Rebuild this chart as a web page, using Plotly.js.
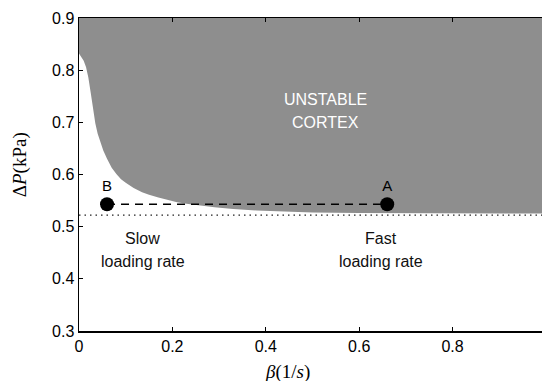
<!DOCTYPE html>
<html>
<head>
<meta charset="utf-8">
<script src="https://cdn.plot.ly/plotly-3.0.1.min.js"></script>
<style>
html, body { margin: 0; padding: 0; overflow: hidden; background: #fff; }
#chart { width: 547px; height: 381px; }
</style>
</head>
<body>
<div id="chart"></div>
<script>
// ---- data ----
const xRange = [0, 1];
const yRange = [0.3, 0.9];
const xTicks = [0, 0.2, 0.4, 0.6, 0.8];
const xTickText = ['0', '0.2', '0.4', '0.6', '0.8'];
const yTicks = [0.3, 0.4, 0.5, 0.6, 0.7, 0.8, 0.9];
const yTickText = ['0.3', '0.4', '0.5', '0.6', '0.7', '0.8', '0.9'];

// stability boundary (lower edge of the unstable region)
const boundaryBeta = [0, 0.005, 0.010, 0.015, 0.020, 0.025, 0.030, 0.035, 0.040, 0.046, 0.052, 0.060, 0.070, 0.080, 0.090, 0.100, 0.117, 0.135, 0.150, 0.170, 0.190, 0.210, 0.230, 0.260, 0.290, 0.330, 0.380, 0.440, 0.500, 0.600, 0.800, 1.000];
const boundaryDP   = [0.832, 0.826, 0.818, 0.806, 0.786, 0.757, 0.724, 0.698, 0.678, 0.660, 0.646, 0.630, 0.613, 0.601, 0.591, 0.584, 0.574, 0.566, 0.561, 0.556, 0.551, 0.547, 0.544, 0.540, 0.537, 0.534, 0.531, 0.529, 0.527, 0.526, 0.525, 0.525];

// asymptotic threshold (dotted line)
const thresholdBeta = [0, 1];
const thresholdDP = [0.522, 0.522];

// loading points
const pointBeta = [0.06, 0.66];
const pointDP = [0.543, 0.543];
const pointLabels = ['B', 'A'];

// region labels
const regionLabelLines = ['UNSTABLE', 'CORTEX'];
const slowLines = ['Slow', 'loading rate'];
const fastLines = ['Fast', 'loading rate'];

// ---- build figure ----
const fillX = boundaryBeta.concat([xRange[1], xRange[0]]);
const fillY = boundaryDP.concat([yRange[1], yRange[1]]);

const font = 'Liberation Sans, Arial, Helvetica, sans-serif';
const serif = 'Liberation Serif, Times New Roman, serif';

const traces = [
  {
    x: fillX, y: fillY, type: 'scatter', mode: 'lines',
    fill: 'toself', fillcolor: '#8e8e8e',
    line: {width: 0, color: '#8e8e8e'}, hoverinfo: 'skip', showlegend: false
  },
  {
    x: thresholdBeta, y: thresholdDP, type: 'scatter', mode: 'lines',
    line: {color: '#222', width: 1.3, dash: '1.5px,4px'}, showlegend: false
  },
  {
    x: pointBeta, y: pointDP, type: 'scatter', mode: 'lines',
    line: {color: '#000', width: 1.3, dash: '8px,6px'}, showlegend: false
  },
  {
    x: pointBeta, y: pointDP, type: 'scatter', mode: 'markers+text',
    marker: {color: '#000', size: 14},
    text: pointLabels, textposition: 'top center',
    textfont: {family: font, size: 15, color: '#000'}, showlegend: false
  }
];

const annotations = [];
function addLines(lines, x, opt, color) {
  lines.forEach((t, i) => {
    annotations.push({
      x: x, y: opt.y, xref: 'x', yref: 'y',
      text: t, showarrow: false,
      yshift: opt.gap * ((lines.length - 1) / 2 - i),
      font: {family: font, size: 16, color: color},
      xanchor: 'center', yanchor: 'middle'
    });
  });
}
addLines(regionLabelLines, 0.528, {y: 0.721, gap: 23}, '#fff');
addLines(slowLines, 0.137, {y: 0.455, gap: 23.5}, '#111');
addLines(fastLines, 0.647, {y: 0.455, gap: 23.5}, '#111');

annotations.push({
  xref: 'paper', yref: 'paper', x: 0.4465, y: -0.132,
  text: '<i>β</i>(1/<i>s</i>)', showarrow: false,
  font: {family: serif, size: 19, color: '#000'}, xanchor: 'center', yanchor: 'middle'
});
annotations.push({
  xref: 'paper', yref: 'paper', x: -0.126, y: 0.53,
  text: 'Δ<i>P</i>(kPa)', showarrow: false, textangle: -90,
  font: {family: serif, size: 19, color: '#000'}, xanchor: 'center', yanchor: 'middle'
});

const axisCommon = {
  showgrid: false, zeroline: false, showline: true, linecolor: '#000', linewidth: 1.5,
  mirror: 'ticks', ticks: 'inside', ticklen: 4, tickwidth: 1.2, tickcolor: '#000',
  tickfont: {family: font, size: 16, color: '#000'}
};

const layout = {
  width: 547, height: 381,
  margin: {l: 79, r: 1, t: 18, b: 50, pad: 0},
  paper_bgcolor: '#fff', plot_bgcolor: '#fff',
  showlegend: false,
  xaxis: Object.assign({}, axisCommon, {range: xRange, tickvals: xTicks, ticktext: xTickText}),
  yaxis: Object.assign({}, axisCommon, {range: yRange, tickvals: yTicks, ticktext: yTickText}),
  annotations: annotations
};

Plotly.newPlot('chart', traces, layout, {displayModeBar: false, staticPlot: true});
</script>
</body>
</html>
